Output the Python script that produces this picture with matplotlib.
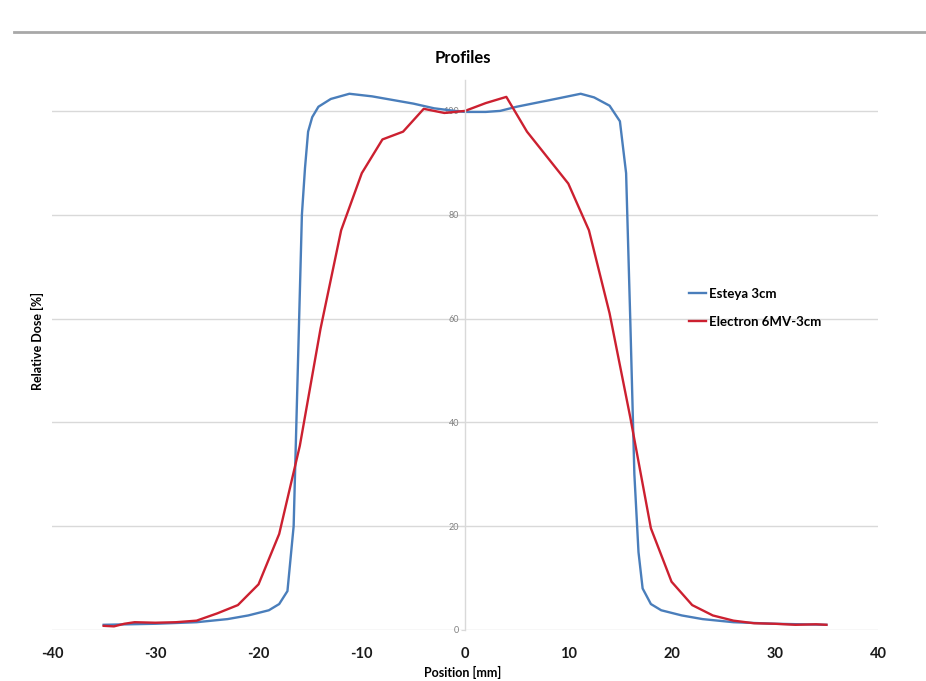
"""
Профили дозы: Esteya 3cm и Electron 6MV-3cm.
Значения сняты с картинки вручную.
"""

import matplotlib

matplotlib.use("Agg")
import matplotlib.pyplot as plt
from matplotlib.lines import Line2D

plt.rcParams["font.family"] = ["Lato", "DejaVu Sans"]

# =============================================================================
# Данные (позиция в мм, относительная доза в %)
# =============================================================================
ESTEYA_POS = [
    -35, -30, -26, -23, -21, -19, -18, -17.2, -16.6, -16.2, -15.8, -15.5,
    -15.2, -14.8, -14.2, -13, -11.2, -9, -7, -5, -3, -1, 0, 2, 3.4, 5, 7,
    9, 11.2, 12.5, 14, 15, 15.6, 16.0, 16.4, 16.8, 17.2, 18, 19, 21, 23,
    26, 30, 35,
]
ESTEYA_DOSE = [
    1.0, 1.2, 1.5, 2.1, 2.8, 3.8, 5.0, 7.5, 20, 50, 80, 89,
    96, 98.8, 100.8, 102.3, 103.3, 102.8, 102.1, 101.4, 100.5, 100.0, 99.8, 99.8, 100.0, 100.8, 101.6,
    102.4, 103.3, 102.6, 101.0, 98.0, 88, 60, 30, 15, 8, 5.0, 3.8, 2.8, 2.1,
    1.5, 1.2, 1.0,
]

ELECTRON_POS = [
    -35, -34, -33, -32, -30, -28, -26, -25, -24, -22, -20, -18, -16, -14,
    -12, -10, -8, -6, -4, -2, 0, 2, 4, 6, 8, 10, 12, 14, 16, 18, 20, 22,
    24, 26, 28, 30, 32, 34, 35,
]
ELECTRON_DOSE = [
    0.8, 0.7, 1.2, 1.5, 1.4, 1.5, 1.8, 2.5, 3.2, 4.8, 8.8, 18.5, 35.5, 58,
    77, 88, 94.5, 96, 100.4, 99.6, 100.0, 101.5, 102.7, 96, 91, 86, 77, 61, 41, 19.6, 9.3, 4.8,
    2.8, 1.8, 1.3, 1.2, 1.0, 1.1, 1.0,
]

X_TICKS = [-40, -30, -20, -10, 0, 10, 20, 30, 40]
Y_TICKS = [0, 20, 40, 60, 80, 100]

COLOR_ESTEYA = "#4A7EBB"
COLOR_ELECTRON = "#CC2030"
GRID_COLOR = "#D9D9D9"


def plot_chart(output_path):
    fig = plt.figure(figsize=(9.26, 6.81), dpi=100)
    ax = fig.add_axes([0.0562, 0.0749, 0.892, 0.808])

    ax.plot(ESTEYA_POS, ESTEYA_DOSE, color=COLOR_ESTEYA, linewidth=1.7,
            label="Esteya 3cm")
    ax.plot(ELECTRON_POS, ELECTRON_DOSE, color=COLOR_ELECTRON, linewidth=1.7,
            label="Electron 6MV-3cm")

    ax.set_xlim(-40, 40)
    ax.set_ylim(0, 106)

    # --- Оси в стиле Excel: ось Y проходит через x=0 ---
    for side in ("top", "right", "bottom"):
        ax.spines[side].set_visible(False)
    ax.spines["left"].set_position(("data", 0))
    ax.spines["left"].set_color(GRID_COLOR)
    ax.spines["left"].set_linewidth(1)

    ax.set_yticks(Y_TICKS)
    ax.set_yticklabels([str(v) for v in Y_TICKS])
    ax.tick_params(axis="y", labelsize=6.5, labelcolor="#808080",
                   length=3, color=GRID_COLOR, pad=1)
    ax.set_xticks(X_TICKS)
    ax.set_xticklabels([str(v) for v in X_TICKS], fontweight="bold")
    ax.tick_params(axis="x", labelsize=10.5, length=0, pad=12,
                   labelcolor="#1a1a1a")

    ax.grid(True, axis="y", color=GRID_COLOR, linewidth=1)
    ax.set_axisbelow(True)

    # --- Подписи ---
    fig.text(0.5, 0.915, "Profiles", ha="center", va="center",
             fontsize=12, fontweight="bold")
    fig.text(0.041, 0.5, "Relative Dose [%]", rotation=90, ha="center",
             va="center", fontsize=9, fontweight="bold")
    fig.text(0.5, 0.012, "Position [mm]", ha="center", va="center",
             fontsize=9, fontweight="bold")

    # Серая линия сверху
    fig.add_artist(Line2D([0.015, 1.0], [0.953, 0.953], color="#A8A8A8",
                          linewidth=2))

    ax.legend(loc="upper left", bbox_to_anchor=(0.757, 0.643), frameon=False,
              handlelength=1.3, handletextpad=0.2, labelspacing=1.2,
              prop={"size": 9.5, "weight": "bold"})

    fig.savefig(output_path, dpi=100)
    plt.close(fig)


def main():
    plot_chart("out.png")


if __name__ == "__main__":
    main()
